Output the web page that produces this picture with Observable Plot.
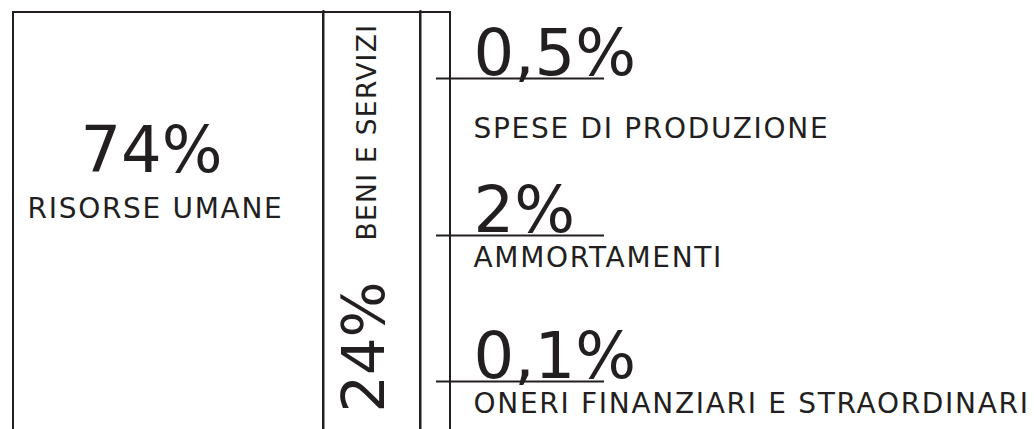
<!DOCTYPE html>
<html>
<head>
<meta charset="utf-8">
<script src="https://cdn.jsdelivr.net/npm/d3@7"></script>
<script src="https://cdn.jsdelivr.net/npm/@observablehq/plot@0.6"></script>
<style>
  html, body { margin: 0; padding: 0; background: #fff; }
  #chart svg { display: block; }
</style>
</head>
<body>
<div id="chart"></div>
<script>
// Main cost shares
const mainLabels = ["RISORSE UMANE", "BENI E SERVIZI"];
const mainValues = [74, 24];
const mainText = ["74%", "24%"];

// Minor items grouped in the last (narrow) column
const minorLabels = ["SPESE DI PRODUZIONE", "AMMORTAMENTI", "ONERI FINANZIARI E STRAORDINARI"];
const minorValues = [0.5, 2, 0.1];
const minorText = ["0,5%", "2%", "0,1%"];

const ink = "#231f20";

// Segments: two main ones and one grouping the minor items
const segValues = [...mainValues, d3.sum(minorValues)];
const cum = [0, ...d3.cumsum(segValues)];
const segments = segValues.map((v, i) => ({x1: cum[i], x2: cum[i + 1]}));

const main = mainLabels.map((label, i) => ({label, text: mainText[i], mid: (cum[i] + cum[i + 1]) / 2}));
const minor = minorLabels.map((label, i) => ({label, text: minorText[i], value: minorValues[i], row: i, x: cum[3]}));

const chart = Plot.plot({
  width: 1034,
  height: 429,
  marginTop: 12,
  marginBottom: 0,
  marginLeft: 0,
  marginRight: 0,
  style: {fontFamily: "'DejaVu Sans', Verdana, sans-serif", background: "#fff", color: ink},
  x: {type: "linear", domain: cum, range: [13, 323, 420, 450], axis: null},
  y: {type: "linear", domain: [0, 1, 2], range: [78, 235, 381], axis: null},
  marks: [
    Plot.rect(segments, {x1: "x1", x2: "x2", fill: "none", stroke: ink, strokeWidth: 2, insetBottom: -10}),
    Plot.ruleX(cum.slice(1, 3), {stroke: ink, strokeWidth: 2, insetTop: -2}),
    Plot.ruleY(minor, {y: "row", x1: cum[2], x2: cum[3], stroke: ink, strokeWidth: 2, insetLeft: 16, insetRight: -154}),
    // Left block
    Plot.text(main.slice(0, 1), {x: "mid", text: "text", frameAnchor: "top", dy: 159, dx: -17, lineAnchor: "bottom", fontSize: 64, fill: ink}),
    Plot.text(main.slice(0, 1), {x: "mid", text: "label", frameAnchor: "top", dy: 205, dx: -13, lineAnchor: "bottom", fontSize: 28, fill: ink}),
    // Middle block (rotated)
    Plot.text(main.slice(1, 2), {x: "mid", text: "text", frameAnchor: "top", dy: 400, dx: 12, rotate: -90, textAnchor: "start", lineAnchor: "bottom", fontSize: 59, fill: ink}),
    Plot.text(main.slice(1, 2), {x: "mid", text: "label", frameAnchor: "top", dy: 228, dx: 4, rotate: -90, textAnchor: "start", lineAnchor: "bottom", fontSize: 26.5, fill: ink}),
    // Minor items
    Plot.text(minor, {x: "x", y: "row", text: "text", dx: 23, dy: -4, textAnchor: "start", lineAnchor: "bottom", fontSize: 64, fill: ink}),
    Plot.text(minor.slice(0, 1), {x: "x", y: "row", text: "label", dx: 23, dy: 59, textAnchor: "start", lineAnchor: "bottom", fontSize: 28, fill: ink}),
    Plot.text(minor.slice(1), {x: "x", y: "row", text: "label", dx: 23, dy: 31, textAnchor: "start", lineAnchor: "bottom", fontSize: 28, fill: ink})
  ]
});

chart.querySelectorAll('g[font-size="28"]').forEach(g => g.setAttribute("letter-spacing", "1.7"));
chart.querySelectorAll('g[font-size="26.5"]').forEach(g => g.setAttribute("letter-spacing", "1.3"));
document.getElementById("chart").append(chart);
</script>
</body>
</html>
